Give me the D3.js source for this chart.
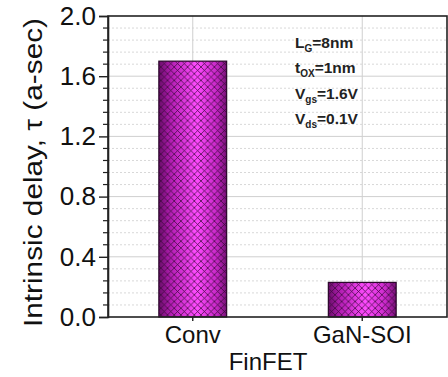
<!DOCTYPE html>
<html lang="en">
  <head>
    <meta charset="UTF-8" />
    <title>Intrinsic delay</title>
    <style>
      html, body { margin: 0; padding: 0; background: #fff; }
      svg { display: block; font-family: Arial, "Liberation Sans", sans-serif; }
    </style>
  </head>
  <body>
    <svg width="448" height="377"></svg>
    <script src="https://d3js.org/d3.v7.min.js"></script>
    <script>
      const categories = ["Conv", "GaN-SOI"];
      const delays = [1.70, 0.23];
      const yTicks = [0.0, 0.4, 0.8, 1.2, 1.6, 2.0];
      const notes = [
        ["L", "G", "=8nm"],
        ["t", "OX", "=1nm"],
        ["V", "gs", "=1.6V"],
        ["V", "ds", "=0.1V"],
      ];

      const svg = d3.select("svg");
      const plotL = 108, plotR = 447, plotT = 16, plotB = 317;
      const font = "Arial, 'Liberation Sans', sans-serif";

      const x = d3
        .scaleBand()
        .domain(categories)
        .range([plotL, plotR])
        .paddingInner(0.6)
        .paddingOuter(0.3);

      const y = d3.scaleLinear().domain([0, 2]).range([plotB, plotT]);

      const defs = svg.append("defs");

      const grad = defs
        .append("linearGradient")
        .attr("id", "barGrad")
        .attr("x1", "0")
        .attr("x2", "1")
        .attr("y1", "0")
        .attr("y2", "0");
      grad.append("stop").attr("offset", "0").attr("stop-color", "#6a0c6a");
      grad.append("stop").attr("offset", "0.18").attr("stop-color", "#b41eb4");
      grad.append("stop").attr("offset", "0.55").attr("stop-color", "#ff4cff");
      grad.append("stop").attr("offset", "0.85").attr("stop-color", "#c828c8");
      grad.append("stop").attr("offset", "1").attr("stop-color", "#741074");

      const p = 6.7;
      const pat = defs
        .append("pattern")
        .attr("id", "hatch")
        .attr("patternUnits", "userSpaceOnUse")
        .attr("width", p)
        .attr("height", p);
      pat
        .append("path")
        .attr(
          "d",
          `M0,0L${p},${p}M${p},0L0,${p}M-1,${p - 1}L1,${p + 1}M${p - 1},-1L${p + 1},1M-1,1L1,-1M${p - 1},${p + 1}L${p + 1},${p - 1}`
        )
        .attr("stroke", "#3a0a3a")
        .attr("stroke-width", 0.9)
        .attr("stroke-opacity", 0.8);

      // minor grid (dotted)
      const minor = d3.range(0, 2.0001, 0.08).filter(
        (v) => Math.abs(v / 0.4 - Math.round(v / 0.4)) > 0.01
      );
      svg
        .append("g")
        .selectAll("line")
        .data(minor)
        .join("line")
        .attr("x1", plotL)
        .attr("x2", plotR)
        .attr("y1", (d) => y(d))
        .attr("y2", (d) => y(d))
        .attr("stroke", "#d8d8d8")
        .attr("stroke-dasharray", "2,2");

      // major grid
      svg
        .append("g")
        .selectAll("line")
        .data(yTicks.slice(1, -1))
        .join("line")
        .attr("x1", plotL)
        .attr("x2", plotR)
        .attr("y1", (d) => y(d))
        .attr("y2", (d) => y(d))
        .attr("stroke", "#cfcfcf");

      svg
        .append("g")
        .selectAll("line")
        .data(categories)
        .join("line")
        .attr("x1", (d) => x(d) + x.bandwidth() / 2)
        .attr("x2", (d) => x(d) + x.bandwidth() / 2)
        .attr("y1", plotT)
        .attr("y2", plotB)
        .attr("stroke", "#cfcfcf");

      // bars
      const bars = svg.append("g");
      bars
        .selectAll("rect.fill")
        .data(delays)
        .join("rect")
        .attr("class", "fill")
        .attr("x", (d, i) => x(categories[i]))
        .attr("y", (d) => y(d))
        .attr("width", x.bandwidth())
        .attr("height", (d) => plotB - y(d))
        .attr("fill", "url(#barGrad)");
      bars
        .selectAll("rect.hatch")
        .data(delays)
        .join("rect")
        .attr("class", "hatch")
        .attr("x", (d, i) => x(categories[i]))
        .attr("y", (d) => y(d))
        .attr("width", x.bandwidth())
        .attr("height", (d) => plotB - y(d))
        .attr("fill", "url(#hatch)")
        .attr("stroke", "#2a062a")
        .attr("stroke-width", 1.2);

      // frame
      svg
        .append("rect")
        .attr("x", plotL)
        .attr("y", plotT)
        .attr("width", plotR - plotL)
        .attr("height", plotB - plotT)
        .attr("fill", "none")
        .attr("stroke", "#222")
        .attr("stroke-width", 1.6);

      // y axis
      const yAxis = svg
        .append("g")
        .attr("transform", `translate(${plotL},0)`)
        .call(
          d3
            .axisLeft(y)
            .tickValues(yTicks)
            .tickFormat(d3.format(".1f"))
            .tickSize(9)
            .tickPadding(3)
        );
      yAxis.select(".domain").attr("stroke", "#222").attr("stroke-width", 1.6);
      yAxis.selectAll(".tick line").attr("stroke", "#222").attr("stroke-width", 1.4);
      yAxis
        .selectAll(".tick text")
        .attr("font-size", 26)
        .attr("fill", "#111")
        .attr("font-family", font);

      svg
        .append("g")
        .selectAll("line")
        .data(minor)
        .join("line")
        .attr("x1", plotL - 5)
        .attr("x2", plotL)
        .attr("y1", (d) => y(d))
        .attr("y2", (d) => y(d))
        .attr("stroke", "#222")
        .attr("stroke-width", 1.2);

      // x axis
      const xAxis = svg
        .append("g")
        .attr("transform", `translate(0,${plotB})`)
        .call(d3.axisBottom(x).tickSize(4).tickPadding(5));
      xAxis.select(".domain").remove();
      xAxis.selectAll(".tick line").attr("stroke", "#222").attr("stroke-width", 1.4);
      xAxis
        .selectAll(".tick text")
        .attr("font-size", 24)
        .attr("fill", "#111")
        .attr("font-family", font);

      svg
        .append("text")
        .attr("x", 268)
        .attr("y", 370)
        .attr("text-anchor", "middle")
        .attr("font-size", 24)
        .attr("fill", "#111")
        .text("FinFET");

      svg
        .append("text")
        .attr("transform", `translate(42,${(18 + 327) / 2}) rotate(-90)`)
        .attr("text-anchor", "middle")
        .attr("font-size", 25)
        .attr("fill", "#111")
        .attr("textLength", 309)
        .attr("lengthAdjust", "spacingAndGlyphs")
        .text("Intrinsic delay, \u03c4 (a-sec)");

      // annotation
      const note = svg.append("g").attr("font-weight", "bold").attr("fill", "#222");
      notes.forEach((n, i) => {
        const t = note
          .append("text")
          .attr("x", 295)
          .attr("y", 48 + i * 25.3)
          .attr("font-size", 15.5);
        t.append("tspan").text(n[0]);
        t.append("tspan").attr("font-size", 10).attr("dy", 4).text(n[1]);
        t.append("tspan").attr("dy", -4).text(n[2]);
      });
    </script>
  </body>
</html>
